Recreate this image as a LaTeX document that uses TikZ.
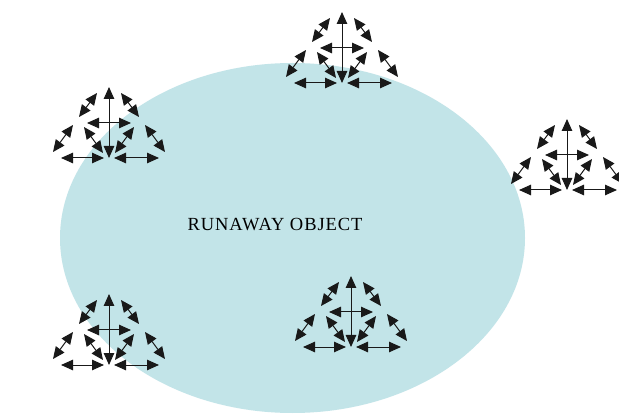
\documentclass[tikz,border=0pt]{standalone}
\usepackage{fontspec}
\setmainfont{Liberation Serif}
\newfontfamily\labelfont[LetterSpace=5]{Liberation Serif}
\usetikzlibrary{arrows.meta,shapes.geometric}
\definecolor{objfill}{RGB}{194,228,232}
\tikzset{
  dbl/.style={{Triangle[length=12pt,width=10.5pt]}-{Triangle[length=12pt,width=10.5pt]}, line width=1pt, black!90},
  pics/arrowtri/.style={code={
    % vertical axis
    \draw[dbl] (0,0) -- (0,-71);
    % left edge, two segments
    \draw[dbl] (-12,-65) -- (-30,-41);
    \draw[dbl] (-36,-33) -- (-56,-6);
    % right edge, two segments
    \draw[dbl] (12,-65) -- (30,-41);
    \draw[dbl] (36,-33) -- (56,-6);
    % middle crossbar
    \draw[dbl] (-22,-35) -- (22,-35);
    % inner diagonals to the base centre
    \draw[dbl] (-25,-31) -- (-6,-5);
    \draw[dbl] (25,-31) -- (6,-5);
    % base
    \draw[dbl] (-48,0) -- (-5,0);
    \draw[dbl] (5,0) -- (50,0);
  }}
}
\begin{document}
\begin{tikzpicture}[x=1pt,y=-1pt]
  \useasboundingbox (0,0) rectangle (619,414);
  \clip (0,0) rectangle (619,414);
  \fill[white] (0,0) rectangle (619,414);
  \node[draw=none, fill=objfill, ellipse, minimum width=465pt, minimum height=350pt, inner sep=0pt]
    (obj) at (292.5,238) {};
  \node[font=\labelfont\fontsize{18.5}{20}\selectfont, inner sep=0pt, text=black] (label) at (275,225) {RUNAWAY OBJECT};
  \pic (t1) at (342,83) {arrowtri};
  \pic (t2) at (109,158) {arrowtri};
  \pic (t3) at (567,190) {arrowtri};
  \pic (t4) at (109,365) {arrowtri};
  \pic (t5) at (351,347) {arrowtri};
\end{tikzpicture}
\end{document}
